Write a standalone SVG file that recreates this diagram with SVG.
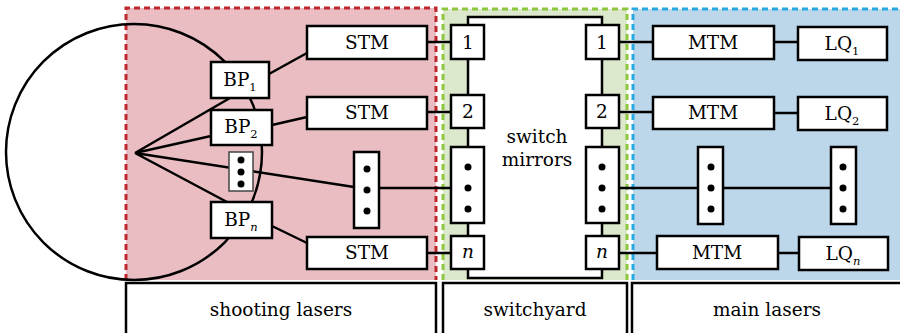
<svg xmlns="http://www.w3.org/2000/svg" width="900" height="333" viewBox="0 0 900 333">
<defs>
<style>
.box{fill:#fff;stroke:#000;stroke-width:2.5}
.sbox{fill:#fff;stroke:#444;stroke-width:1.5}
.ln{fill:none;stroke:#000;stroke-width:2.5}
text{font-family:'DejaVu Serif','Liberation Serif',serif;font-size:18.5px;fill:#000;text-anchor:middle}
.sub{font-size:11.5px}
.it{font-style:italic}
.dot{fill:#000}
</style>
</defs>
<rect width="900" height="333" fill="#fff"/>
<g id="regions">
<rect x="126" y="8" width="310" height="272" fill="#e9bdc1"/>
<rect x="443" y="9" width="184" height="271" fill="#dce8cc"/>
<rect x="633" y="9" width="270" height="271" fill="#bcd6ea"/>
<path d="M126,280 V8 H436 V280" fill="none" stroke="#c0272d" stroke-width="3" stroke-dasharray="6,4"/>
<path d="M443,280 V9 H627 V280" fill="none" stroke="#8dc63f" stroke-width="3" stroke-dasharray="6,4"/>
<path d="M633,280 V9 H903" fill="none" stroke="#27aae1" stroke-width="3" stroke-dasharray="6,4"/>
<rect x="468" y="17" width="134" height="261" fill="#fff"/>
</g>
<g id="connectors">
<circle cx="134" cy="152" r="128" class="ln"/>
<path class="ln" d="M135,153 L230,98 M135,153 L211,136 M135,153 L354,187 M135,153 L227,202"/>
<path class="ln" d="M269,74 L307,53 M272,125 L307,117 M272,226 L307,243"/>
<path class="ln" d="M427,42 H451 M427,112 H451 M379,188 H451 M427,253 H451"/>
<path class="ln" d="M468,25 V17 H602 V25 M468,59 V95 M468,128 V147 M468,223 V236 M468,269 V278 H602 V269 M602,59 V95 M602,128 V147 M602,223 V236"/>
<path class="ln" d="M619,42 H653 M774,42 H798 M619,112 H653 M774,113 H798 M619,188 H698 M723,188 H831 M619,253 H657 M778,253 H799"/>
</g>
<g id="bp1"><rect class="box" x="211" y="62" width="58" height="36"/><text x="240" y="86">BP<tspan class="sub" dy="5">1</tspan></text></g>
<g id="bp2"><rect class="box" x="211" y="110" width="61" height="35"/><text x="241" y="133">BP<tspan class="sub" dy="5">2</tspan></text></g>
<g id="bpdots"><rect class="sbox" x="229" y="152" width="24" height="39"/><circle class="dot" cx="241" cy="160" r="3.5"/><circle class="dot" cx="241" cy="172" r="3.5"/><circle class="dot" cx="241" cy="184" r="3.5"/></g>
<g id="bpn"><rect class="box" x="211" y="202" width="61" height="36"/><text x="241" y="226">BP<tspan class="sub it" dy="5">n</tspan></text></g>
<g id="stm1"><rect class="box" x="307" y="26" width="120" height="33"/><text x="367" y="49">STM</text></g>
<g id="stm2"><rect class="box" x="307" y="97" width="120" height="32"/><text x="367" y="119">STM</text></g>
<g id="stmdots"><rect class="box" x="354" y="152" width="25" height="76"/><circle class="dot" cx="367" cy="169" r="3.5"/><circle class="dot" cx="367" cy="190" r="3.5"/><circle class="dot" cx="367" cy="211" r="3.5"/></g>
<g id="stmn"><rect class="box" x="307" y="237" width="120" height="32"/><text x="367" y="259">STM</text></g>
<g id="swl1"><rect class="box" x="451" y="25" width="33" height="34"/><text x="468" y="49">1</text></g>
<g id="swl2"><rect class="box" x="451" y="95" width="33" height="33"/><text x="468" y="118">2</text></g>
<g id="swldots"><rect class="box" x="451" y="147" width="33" height="76"/><circle class="dot" cx="468" cy="167" r="3.5"/><circle class="dot" cx="468" cy="188" r="3.5"/><circle class="dot" cx="468" cy="209" r="3.5"/></g>
<g id="swln"><rect class="box" x="451" y="236" width="33" height="33"/><text class="it" x="468" y="258">n</text></g>
<g id="swr1"><rect class="box" x="586" y="25" width="33" height="34"/><text x="602" y="49">1</text></g>
<g id="swr2"><rect class="box" x="586" y="95" width="33" height="33"/><text x="602" y="118">2</text></g>
<g id="swrdots"><rect class="box" x="586" y="147" width="33" height="76"/><circle class="dot" cx="602" cy="167" r="3.5"/><circle class="dot" cx="602" cy="188" r="3.5"/><circle class="dot" cx="602" cy="209" r="3.5"/></g>
<g id="swrn"><rect class="box" x="586" y="236" width="33" height="33"/><text class="it" x="602" y="258">n</text></g>
<g id="switchlabel"><text x="537" y="143">switch</text><text x="537" y="166">mirrors</text></g>
<g id="mtm1"><rect class="box" x="653" y="26" width="121" height="33"/><text x="713" y="49">MTM</text></g>
<g id="mtm2"><rect class="box" x="653" y="97" width="121" height="32"/><text x="713" y="119">MTM</text></g>
<g id="mtmdots"><rect class="box" x="698" y="147" width="25" height="77"/><circle class="dot" cx="711" cy="167" r="3.5"/><circle class="dot" cx="711" cy="188" r="3.5"/><circle class="dot" cx="711" cy="209" r="3.5"/></g>
<g id="mtmn"><rect class="box" x="657" y="236" width="121" height="33"/><text x="717" y="259">MTM</text></g>
<g id="lq1"><rect class="box" x="798" y="27" width="89" height="33"/><text x="842" y="50">LQ<tspan class="sub" dy="5">1</tspan></text></g>
<g id="lq2"><rect class="box" x="798" y="97" width="89" height="33"/><text x="842" y="120">LQ<tspan class="sub" dy="5">2</tspan></text></g>
<g id="lqdots"><rect class="box" x="831" y="147" width="25" height="77"/><circle class="dot" cx="843" cy="167" r="3.5"/><circle class="dot" cx="843" cy="188" r="3.5"/><circle class="dot" cx="843" cy="209" r="3.5"/></g>
<g id="lqn"><rect class="box" x="799" y="237" width="89" height="33"/><text x="843" y="260">LQ<tspan class="sub it" dy="5">n</tspan></text></g>
<g id="label-shooting"><rect class="box" x="126" y="283" width="310" height="60"/><text x="281" y="316">shooting lasers</text></g>
<g id="label-switchyard"><rect class="box" x="443" y="283" width="184" height="60"/><text x="535" y="316">switchyard</text></g>
<g id="label-main"><rect class="box" x="632" y="283" width="280" height="60"/><text x="767" y="316">main lasers</text></g>
</svg>
